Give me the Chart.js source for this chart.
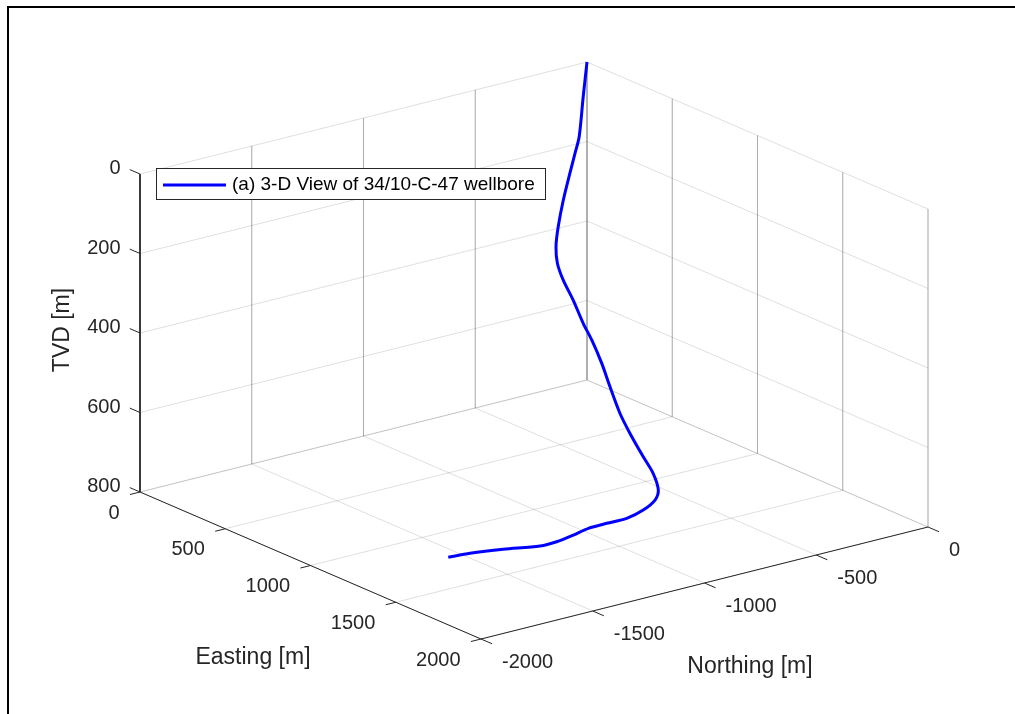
<!doctype html>
<html lang="en">
<head>
<meta charset="utf-8">
<title>3-D View of 34/10-C-47 wellbore</title>
<script src="https://cdn.jsdelivr.net/npm/chart.js@4.4.1/dist/chart.umd.min.js"></script>
<style>
  html, body { margin: 0; padding: 0; background: #fff; }
  #wrap { width: 1015px; height: 714px; }
</style>
</head>
<body>
<div id="wrap"><canvas id="wellChart" width="1015" height="714"></canvas></div>

<script>
const easting  = [0, 0, 0, 2, 5, 8, 12, 20, 35, 102, 214, 327, 421, 533, 626, 739, 850, 999, 1112, 1168,
                  1238, 1288, 1317, 1310, 1310, 1332, 1350, 1348, 1290, 1246, 1226];
const northing = [0, -17, -35, -55, -80, -112, -138, -154, -159, -184, -225, -266, -300, -341, -375, -416, -456, -511, -552, -572,
                  -640, -731, -827, -911, -993, -1077, -1166, -1238, -1359, -1474, -1556];
const tvd      = [0, 85, 183, 221, 267, 330, 393, 439, 478, 504, 528, 560, 579, 611, 648, 689, 713, 736, 752, 780,
                  783, 786, 788, 790, 791, 792, 793, 794, 796, 798, 800];

const eastTicks  = [0, 500, 1000, 1500, 2000];
const northTicks = [-2000, -1500, -1000, -500, 0];
const tvdTicks   = [0, 200, 400, 600, 800];

const eMin = 0, eMax = 2000, nMin = -2000, nMax = 0, tMin = 0, tMax = 800;

// view: pixel of (E=0, N=0, TVD=0) and pixels per metre along each axis
const view = { x0: 587, y0: 62, ex: 0.1705, ey: 0.0735, nx: 0.2235, ny: -0.056, tz: 0.3975 };

function project(e, n, t) {
  return {
    x: view.x0 + view.ex * e + view.nx * n,
    y: view.y0 + view.ey * e + view.ny * n + view.tz * t
  };
}

const gridColor = 'rgba(38,38,38,0.15)';
const axisColor = '#262626';
const fontFamily = '"Liberation Sans", Arial, Helvetica, sans-serif';

function seg(a, b, color) {
  return {
    data: [project(a[0], a[1], a[2]), project(b[0], b[1], b[2])],
    showLine: true, borderColor: color, borderWidth: 1,
    pointRadius: 0, fill: false, tension: 0
  };
}

const datasets = [];

// trajectory on top (dataset 0 is drawn last)
datasets.push({
  label: '(a) 3-D View of 34/10-C-47 wellbore',
  data: easting.map((e, i) => project(e, northing[i], tvd[i])),
  showLine: true, borderColor: '#0000ff', borderWidth: 3,
  pointRadius: 0, fill: false, tension: 0.3
});

// axis lines and ticks
datasets.push(seg([eMin, nMin, tMin], [eMin, nMin, tMax], axisColor));
datasets.push(seg([eMin, nMin, tMax], [eMax, nMin, tMax], axisColor));
datasets.push(seg([eMax, nMin, tMax], [eMax, nMax, tMax], axisColor));
tvdTicks.forEach(t => datasets.push(seg([eMin, nMin, t], [eMin - 60, nMin, t], axisColor)));
eastTicks.forEach(e => datasets.push(seg([e, nMin, tMax], [e, nMin - 45, tMax], axisColor)));
northTicks.forEach(n => datasets.push(seg([eMax, n, tMax], [eMax + 65, n, tMax], axisColor)));

// back wall E = 0
northTicks.forEach(n => datasets.push(seg([eMin, n, tMin], [eMin, n, tMax], gridColor)));
tvdTicks.forEach(t => datasets.push(seg([eMin, nMin, t], [eMin, nMax, t], gridColor)));
// back wall N = 0
eastTicks.forEach(e => datasets.push(seg([e, nMax, tMin], [e, nMax, tMax], gridColor)));
tvdTicks.forEach(t => datasets.push(seg([eMin, nMax, t], [eMax, nMax, t], gridColor)));
// floor TVD = 800
eastTicks.forEach(e => datasets.push(seg([e, nMin, tMax], [e, nMax, tMax], gridColor)));
northTicks.forEach(n => datasets.push(seg([eMin, n, tMax], [eMax, n, tMax], gridColor)));

const labelsPlugin = {
  id: 'axes3d',
  afterDraw(chart) {
    const ctx = chart.ctx;
    ctx.save();

    // figure frame
    ctx.fillStyle = '#000';
    ctx.fillRect(7, 6, 1008, 2);
    ctx.fillRect(7, 6, 2, 708);

    ctx.fillStyle = axisColor;
    ctx.font = '20px ' + fontFamily;
    ctx.textBaseline = 'middle';

    ctx.textAlign = 'right';
    tvdTicks.forEach(t => {
      const p = project(eMin, nMin, t);
      ctx.fillText(String(t), p.x - 19.5, p.y - 5.5);
    });
    eastTicks.forEach(e => {
      const p = project(e, nMin, tMax);
      ctx.fillText(String(e), p.x - 20.5, p.y + 21);
    });
    ctx.textAlign = 'left';
    northTicks.forEach(n => {
      const p = project(eMax, n, tMax);
      ctx.fillText(String(n), p.x + 21, p.y + 23);
    });

    // axis titles
    ctx.font = '23px ' + fontFamily;
    ctx.textAlign = 'center';
    ctx.fillText('Easting [m]', 253, 658);
    ctx.fillText('Northing [m]', 750, 667);
    ctx.save();
    ctx.translate(63, 330);
    ctx.rotate(-Math.PI / 2);
    ctx.fillText('TVD [m]', 0, 0);
    ctx.restore();

    // legend
    ctx.fillStyle = '#fff';
    ctx.fillRect(156.5, 168.5, 389, 31);
    ctx.strokeStyle = axisColor;
    ctx.lineWidth = 1;
    ctx.strokeRect(156.5, 168.5, 389, 31);
    ctx.strokeStyle = '#0000ff';
    ctx.lineWidth = 3;
    ctx.beginPath();
    ctx.moveTo(163, 185);
    ctx.lineTo(226, 185);
    ctx.stroke();
    ctx.fillStyle = '#000';
    ctx.font = '19px ' + fontFamily;
    ctx.textAlign = 'left';
    ctx.fillText(chart.data.datasets[0].label, 232, 184.5);

    ctx.restore();
  }
};

new Chart(document.getElementById('wellChart'), {
  type: 'scatter',
  data: { datasets: datasets },
  options: {
    responsive: false,
    animation: false,
    layout: { padding: 0 },
    plugins: { legend: { display: false }, tooltip: { enabled: false } },
    scales: {
      x: { type: 'linear', min: 0, max: 1015, display: false },
      y: { type: 'linear', min: 0, max: 714, reverse: true, display: false }
    }
  },
  plugins: [labelsPlugin]
});
</script>
</body>
</html>
